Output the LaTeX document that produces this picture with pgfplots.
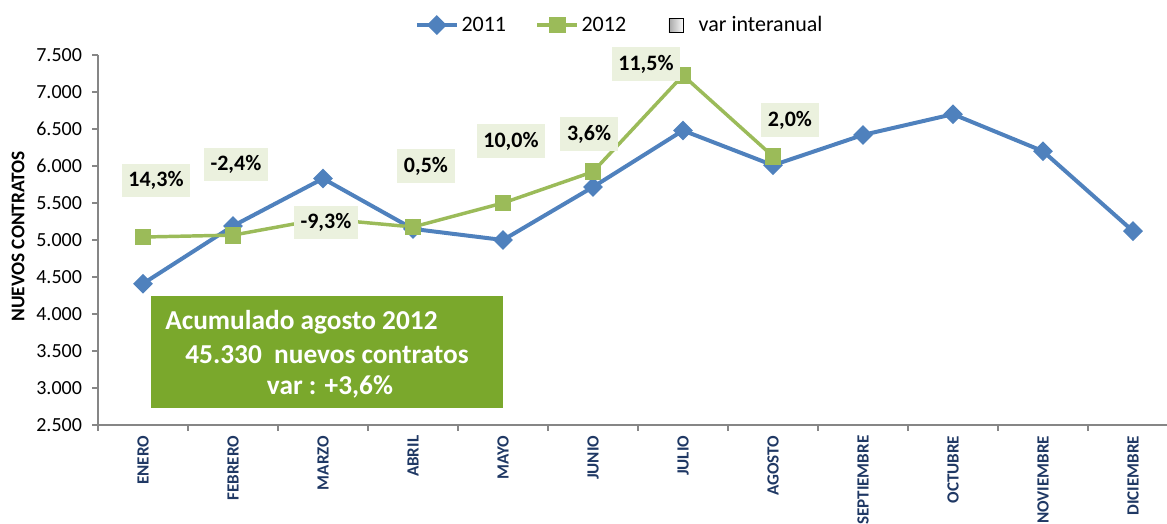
\documentclass[border=0pt]{standalone}
\usepackage{pgfplots}
\pgfplotsset{compat=1.18}
\usepackage{fontspec}
\setmainfont{Carlito}
\usetikzlibrary{calc}
\definecolor{blue11}{RGB}{79,129,189}
\definecolor{green12}{RGB}{155,187,89}
\definecolor{boxgreen}{RGB}{122,168,44}
\definecolor{lblbg}{RGB}{235,241,222}
\definecolor{navy}{RGB}{31,56,100}
\definecolor{axgray}{RGB}{134,134,134}
\tikzset{lbl/.style={fill=lblbg, font=\bfseries\fontsize{16.5}{19}\selectfont, inner xsep=5pt, minimum height=25pt, anchor=center}}
\begin{document}
\begin{tikzpicture}
\begin{axis}[
  name=ax, set layers,
  scale only axis, width=801.75pt, height=277.5pt,
  xmin=-0.5, xmax=11.378, ymin=2500, ymax=7500,
  clip=false,
  axis x line*=bottom, axis y line*=left,
  axis line style={axgray, line width=1pt},
  tick align=outside,
  xtick={0,...,11},
  xticklabels={ENERO,FEBRERO,MARZO,ABRIL,MAYO,JUNIO,JULIO,AGOSTO,SEPTIEMBRE,OCTUBRE,NOVIEMBRE,DICIEMBRE},
  major x tick style={draw=none},
  minor xtick={-0.5,0.5,...,10.5},
  minor x tick style={axgray, line width=1pt},
  y tick style={axgray, line width=1pt},
  major tick length=4.5pt, minor tick length=4.5pt,
  ytick={2500,3000,...,7500},
  yticklabels={2.500,3.000,3.500,4.000,4.500,5.000,5.500,6.000,6.500,7.000,7.500},
  yticklabel style={font=\fontsize{15}{17}\selectfont, text=black, xshift=-4pt},
  xticklabel style={rotate=90, anchor=east, font=\bfseries\fontsize{12.8}{14}\selectfont, text=navy},
  ylabel={NUEVOS CONTRATOS},
  ylabel style={at={(axis description cs:-0.0748,0.51)}, anchor=center, font=\bfseries\fontsize{14.5}{16}\selectfont},
  /pgf/number format/assume math mode=true,
  legend style={at={(axis description cs:0.4883,1.081)}, anchor=center, draw=none, fill=none,
    font=\fontsize{16.5}{19}\selectfont,
    /tikz/every even column/.append style={column sep=20pt}},
  legend columns=3,
  legend image code/.code={\draw[mark repeat=2,mark phase=2] plot coordinates {(0pt,0pt) (15pt,0pt) (30pt,0pt)};},
]
\addplot[blue11, line width=3pt, mark=square*, mark size=3.75pt, mark options={rotate=45, solid}] coordinates {
(0,4410) (1,5190) (2,5830) (3,5150) (4,5000) (5,5716) (6,6480) (7,6010) (8,6420) (9,6700) (10,6200) (11,5120)};
\addlegendentry{2011}
\addplot[green12, line width=2.6pt, mark=square*, mark size=5pt, mark options={solid}] coordinates {
(0,5040) (1,5066) (2,5288) (3,5176) (4,5500) (5,5922) (6,7225) (7,6130)};
\addlegendentry{2012}
\addlegendimage{legend image code/.code={\path (0pt,0pt) (30pt,0pt); \shade[left color=gray!70, right color=gray!5] (9.75pt,-5.25pt) rectangle (20.25pt,5.25pt);}}
\addlegendentry{var interanual}

\begin{pgfonlayer}{axis foreground}
\node[lbl] at (axis cs:0.144,5804) {14,3\%};
\node[lbl] at (axis cs:1.033,6020) {-2,4\%};
\node[lbl] at (axis cs:2.033,5236) {-9,3\%};
\node[lbl] at (axis cs:3.144,6000) {0,5\%};
\node[lbl] at (axis cs:4.089,6338) {10,0\%};
\node[lbl] at (axis cs:4.956,6432) {3,6\%};
\node[lbl] at (axis cs:5.589,7378) {11,5\%};
\node[lbl] at (axis cs:7.189,6622) {2,0\%};

\fill[boxgreen] (rel axis cs:0.0496,0.0459) rectangle (rel axis cs:0.3789,0.3486);
\node[anchor=west, text=white, font=\bfseries\fontsize{20.5}{24}\selectfont, inner sep=0pt] at (rel axis cs:0.0627,0.278) {Acumulado agosto 2012};
\node[anchor=west, text=white, font=\bfseries\fontsize{20.5}{24}\selectfont, inner sep=0pt] at (rel axis cs:0.0814,0.189) {45.330\ \ nuevos contratos};
\node[anchor=center, text=white, font=\bfseries\fontsize{20.5}{24}\selectfont, inner sep=0pt] at (rel axis cs:0.217,0.103) {var : +3,6\%};
\end{pgfonlayer}
\end{axis}
\pgfresetboundingbox
\path[use as bounding box] ($(ax.south west)+(-73.5pt,-74.25pt)$) rectangle ($(ax.north east)+(0pt,41.25pt)$);
\end{tikzpicture}
\end{document}
